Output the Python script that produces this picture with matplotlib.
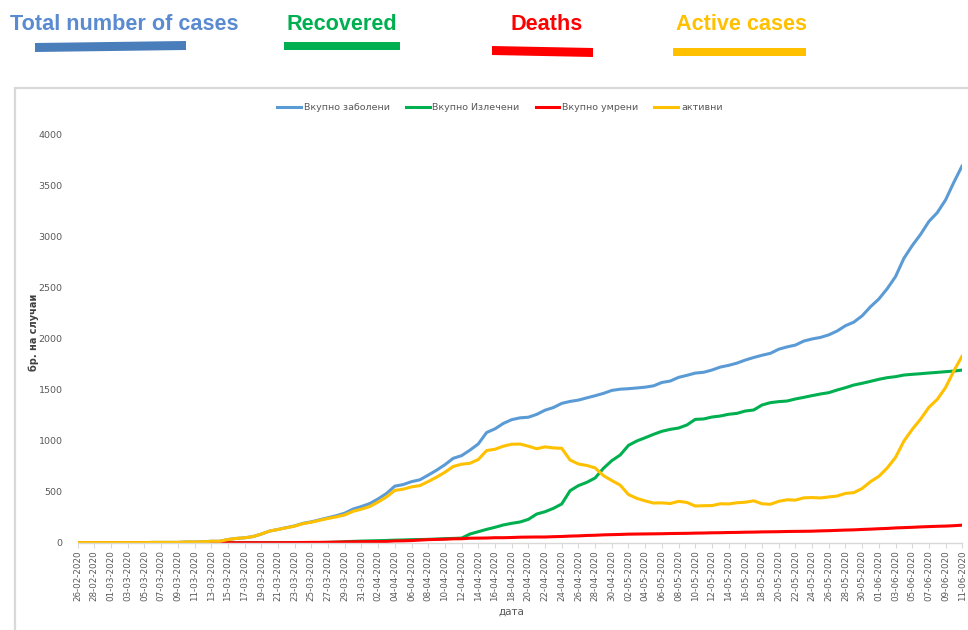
import matplotlib
matplotlib.use("Agg")
import matplotlib.pyplot as plt
from matplotlib import font_manager
from matplotlib.patches import Polygon
from matplotlib.lines import Line2D
import pandas as pd

# ---------------- data ----------------
dates = pd.date_range("2020-02-26", "2020-06-11", freq="D")
date_labels = [d.strftime("%d-%m-%Y") for d in dates]

total = [1, 1, 1, 1, 1, 1, 1, 1, 1, 3, 3, 3, 3, 7, 7, 9, 14, 14, 31, 42,
         48, 60, 85, 114, 130, 148, 165, 190, 205, 225, 245, 265, 290, 330, 355, 384,
         430, 483, 555, 570, 599, 617, 663, 711, 765, 828, 854, 908, 969, 1081,
         1117, 1170, 1207, 1225, 1231, 1259, 1300, 1326, 1367, 1386, 1399, 1421,
         1442, 1465, 1494, 1506, 1511, 1518, 1526, 1539, 1572, 1586, 1622, 1642,
         1664, 1672, 1694, 1723, 1740, 1762, 1792, 1817, 1839, 1858, 1898, 1921,
         1939, 1978, 1999, 2014, 2039, 2077, 2129, 2164, 2226, 2315, 2391, 2492,
         2611, 2790, 2915, 3025, 3152, 3238, 3364, 3538, 3701]

recovered = [0] * 25 + [1, 1, 1, 1, 2, 3, 5, 10, 13, 16, 18, 20, 22, 25, 27, 30,
             31, 33, 36, 40, 42, 45, 85, 108, 131, 151, 174, 190, 203, 229, 281,
             304, 337, 380, 510, 560, 592, 635, 730, 805, 860, 955, 998, 1030, 1063,
             1093, 1112, 1125, 1155, 1210, 1214, 1233, 1243, 1260, 1269, 1292, 1302,
             1351, 1374, 1384, 1390, 1410, 1426, 1443, 1459, 1472, 1498, 1521, 1547,
             1564, 1583, 1603, 1619, 1629, 1645, 1652, 1658, 1665, 1671, 1678, 1684,
             1694]

deaths = [0] * 25 + [1, 1, 2, 3, 3, 4, 6, 7, 9, 10, 11, 11, 12, 17, 18, 21, 26, 30,
          32, 34, 38, 39, 44, 45, 46, 49, 49, 51, 54, 55, 56, 56, 59, 61, 65, 67, 71,
          73, 77, 79, 81, 84, 85, 86, 87, 88, 90, 91, 92, 94, 95, 97, 98, 100, 101,
          103, 104, 106, 107, 108, 110, 111, 112, 113, 116, 118, 121, 124, 126, 130,
          133, 137, 140, 145, 148, 151, 155, 158, 161, 163, 167, 172]

active = [1, 1, 1, 1, 1, 1, 1, 1, 1, 3, 3, 3, 3, 7, 7, 9, 14, 14, 31, 42,
          48, 60, 85, 114, 130, 146, 163, 187, 201, 220, 238, 254, 273, 308, 329, 355,
          399, 449, 513, 525, 548, 560, 600, 643, 691, 748, 770, 779, 816, 904,
          917, 947, 966, 968, 947, 922, 940, 930, 926, 811, 772, 758, 734, 658,
          610, 565, 472, 435, 410, 389, 391, 384, 406, 395, 360, 363, 364, 382,
          380, 392, 397, 411, 382, 377, 406, 421, 418, 440, 443, 439, 449, 458,
          484, 491, 532, 599, 651, 733, 837, 997, 1112, 1212, 1329, 1406, 1523,
          1687, 1835]

series_names = ["Вкупно заболени", "Вкупно Излечени", "Вкупно умрени", "активни"]
header_labels = ["Total number of cases", "Recovered", "Deaths", "Active cases"]
y_ticks = [0, 500, 1000, 1500, 2000, 2500, 3000, 3500, 4000]

# ---------------- styling ----------------
W, H = 968, 630
line_colors = ["#5B9BD5", "#00B050", "#FF0000", "#FFC000"]
text_gray = "#595959"

avail = {f.name for f in font_manager.fontManager.ttflist}
head_font = "Liberation Sans" if "Liberation Sans" in avail else "DejaVu Sans"

fig = plt.figure(figsize=(W / 100, H / 100), dpi=100)


def fx(px):
    return px / W


def fy(py):
    return 1 - py / H


ax = fig.add_axes([fx(77.7), fy(542.7), fx(962.3) - fx(77.7), fy(135) - fy(542.7)])

x = list(range(len(dates)))
for vals, col, name in zip([total, recovered, deaths, active], line_colors, series_names):
    ax.plot(x, vals, color=col, lw=2.2, label=name, solid_capstyle="round")

ax.set_xlim(0, len(dates) - 1)
ax.set_ylim(0, 4000)
ax.set_yticks(y_ticks)
ax.set_yticklabels([str(v) for v in y_ticks], fontsize=6.8, color=text_gray)
ax.tick_params(axis="y", length=0, pad=11)
ax.set_xticks(x[::2])
ax.set_xticklabels(date_labels[::2], rotation=90, fontsize=6.3, color=text_gray)
ax.tick_params(axis="x", length=3.5, color="#D9D9D9", pad=2)
for s in ["top", "right", "left"]:
    ax.spines[s].set_visible(False)
ax.spines["bottom"].set_color("#D9D9D9")
ax.spines["bottom"].set_linewidth(1.0)

# axis titles
fig.text(fx(34), fy(332), "бр. на случаи", rotation=90, ha="center", va="center",
         fontsize=7, color="#404040", fontweight="bold")
fig.text(fx(511), fy(612), "дата", ha="center", va="center", fontsize=7.5, color=text_gray)

# inner legend
handles = [Line2D([0], [0], color=c, lw=2.2) for c in line_colors]
fig.legend(handles, series_names, loc="center", bbox_to_anchor=(fx(500), fy(108)),
           ncol=4, frameon=False, fontsize=6.8, handlelength=2.5, handletextpad=0.3,
           columnspacing=1.7, labelcolor=text_gray)

# chart border box
border = Polygon([[fx(15), fy(700)], [fx(15), fy(88)], [fx(1000), fy(88)]], closed=False,
                 fill=False, edgecolor="#D9D9D9", lw=1.6, transform=fig.transFigure)
fig.patches.append(border)

# header labels, font size fitted to the first label's width in the reference
header_x = [10, 287, 511, 676]
header_colors = ["#5A8BD0", "#00B050", "#FF0000", "#FFC000"]
renderer = fig.canvas.get_renderer()
probe = fig.text(0, 0, header_labels[0], fontsize=10, fontweight="bold", family=head_font)
w10 = probe.get_window_extent(renderer).width
probe.remove()
head_size = 10 * 228 / w10
for lbl, hx, hc in zip(header_labels, header_x, header_colors):
    fig.text(fx(hx), fy(25), lbl, ha="left", va="center", fontsize=head_size,
             fontweight="bold", color=hc, family=[head_font, "DejaVu Sans"])

# header underline bars (pixel polygons)
bars = [
    ([(35, 43), (186, 41), (186, 50), (35, 52)], "#4A7EBB"),
    ([(284, 42), (400, 42), (400, 50), (284, 50)], "#00B050"),
    ([(492, 46), (593, 48), (593, 57), (492, 55)], "#FF0000"),
    ([(673, 48), (806, 48), (806, 56), (673, 56)], "#FFC000"),
]
for pts, col in bars:
    poly = Polygon([[fx(px), fy(py)] for px, py in pts], closed=True, facecolor=col,
                   edgecolor="none", transform=fig.transFigure)
    fig.patches.append(poly)

fig.savefig("out.png", dpi=100)
